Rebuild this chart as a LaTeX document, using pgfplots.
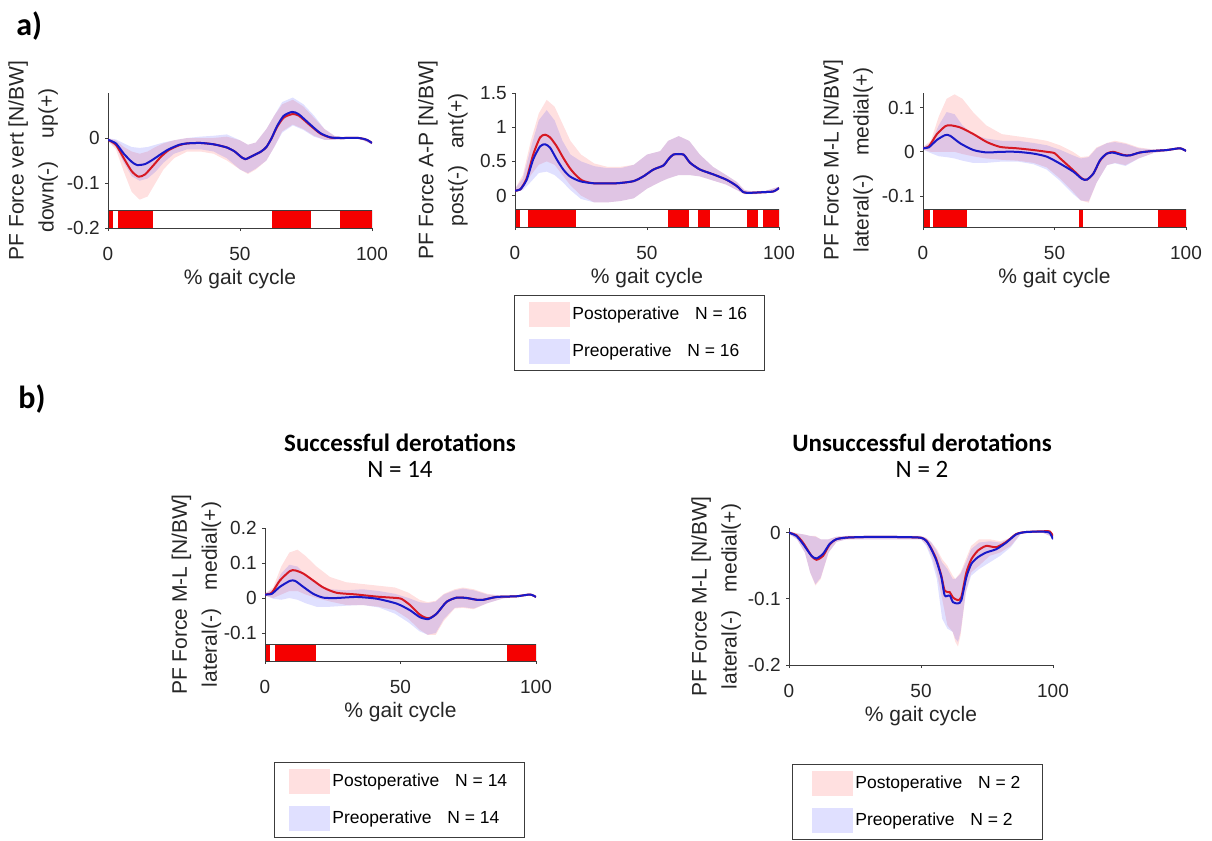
\documentclass[border=0pt]{standalone}
\usepackage{fontspec}
\setmainfont{Liberation Sans}
\newfontfamily\calibri{Carlito}
\usepackage{pgfplots}
\pgfplotsset{compat=1.18}

\definecolor{postln}{RGB}{215,25,35}
\definecolor{preln}{RGB}{25,25,200}
\definecolor{sigred}{RGB}{245,0,0}
\definecolor{axgray}{RGB}{60,60,60}

\pgfplotsset{
  gait/.style={
    scale only axis, xmin=0, xmax=100,
    axis x line*=bottom, axis y line*=left,
    axis line style={-, draw=axgray, line width=0.5pt},
    tick align=outside, major tick length=1.5pt,
    tick style={draw=axgray, line width=0.5pt},
    xtick={0,50,100}, xticklabels={0,50,100},
    ticklabel style={font=\fontsize{9.5}{11}\selectfont, text=black!85},
    xticklabel style={anchor=base, yshift=-14.5pt, inner sep=0pt},
    yticklabel style={anchor=east, xshift=-2.5pt, inner sep=0pt},
    xlabel={\% gait cycle},
    xlabel style={at={(axis description cs:0.5,0)}, anchor=base, yshift=-28pt, inner sep=0pt},
    ylabel style={align=center, inner sep=0pt, anchor=south},
    label style={font=\fontsize{10.5}{15}\selectfont, text=black!85},
    legend cell align=left,
    legend style={draw=axgray, line width=0.5pt, font=\fontsize{8.75}{10}\selectfont,
      inner xsep=7.5pt, inner ysep=3.3pt, row sep=6pt, nodes={inner sep=1pt}, anchor=north west},
    legend image code/.code={\fill[##1] (0pt,-6.25pt) rectangle (20.5pt,6.25pt);},
  },
  postband/.style={fill=red, fill opacity=0.12, draw=none},
  preband/.style={fill=blue, fill opacity=0.12, draw=none},
  postmean/.style={postln, line width=1pt, smooth, tension=0.4, forget plot},
  premean/.style={preln, line width=1pt, smooth, tension=0.4, forget plot},
}

% significance bar: white box, red segments, outline
\newcommand{\sigbox}[2]{\addplot[fill=white, draw=none, forget plot] coordinates {(0,#1) (100,#1) (100,#2) (0,#2)} --cycle;}
\newcommand{\sigline}[2]{\addplot[draw=axgray, line width=0.5pt, forget plot] coordinates {(0,#1) (100,#1) (100,#2) (0,#2)} --cycle;}
\newcommand{\sig}[4]{\addplot[fill=sigred, draw=none, forget plot] coordinates {(#1,#3) (#2,#3) (#2,#4) (#1,#4)} --cycle;}

\begin{document}
\begin{tikzpicture}
\begin{scope}[x=0.5pt,y=-0.5pt]
\path[use as bounding box] (0,0) rectangle (1212,840);
\coordinate (A1) at (108,228);
\coordinate (A2) at (515,227);
\coordinate (A3) at (923,227);
\coordinate (B1) at (265,661);
\coordinate (B2) at (789,665);
\node[font=\calibri\bfseries\fontsize{16}{18}\selectfont, anchor=base west, inner sep=0pt] at (16,35) {a)};
\node[font=\calibri\bfseries\fontsize{16}{18}\selectfont, anchor=base west, inner sep=0pt] at (18,408) {b)};
\node[font=\calibri\bfseries\fontsize{12.5}{15}\selectfont, anchor=base, inner sep=0pt] at (400,451) {Successful derotations};
\node[font=\calibri\fontsize{12.5}{15}\selectfont, anchor=base, inner sep=0pt] at (400,477) {N = 14};
\node[font=\calibri\bfseries\fontsize{12.5}{15}\selectfont, anchor=base, inner sep=0pt] at (922,451) {Unsuccessful derotations};
\node[font=\calibri\fontsize{12.5}{15}\selectfont, anchor=base, inner sep=0pt] at (922,477) {N = 2};
\end{scope}

% ---------- a) vertical ----------
\begin{axis}[gait, at={(A1)}, anchor=south west, width=132pt, height=67.5pt,
  ymin=-0.2, ymax=0.1, ytick={-0.2,-0.1,0}, yticklabels={-0.2,-0.1,0},
  ylabel={PF Force vert [N/BW]\\down(-)\hspace{1.1em}up(+)},
  ylabel style={at={(axis description cs:-0.188,0.5)}}]
\addplot[postband, forget plot] coordinates {(0,-0.001)(3,-0.005)(6,-0.02)(9,-0.03)(12,-0.035)(15,-0.03)(18,-0.02)(21,-0.012)(25,-0.005)(30,0)(35,0)(40,0)(45,0.003)(50,-0.005)(53,-0.015)(56,-0.01)(60,0.02)(63,0.05)(66,0.075)(70,0.085)(74,0.07)(78,0.045)(82,0.02)(86,0.004)(90,0.002)(95,0.001)(100,-0.008)
  (100,-0.014)(95,-0.001)(90,-0.002)(86,-0.004)(82,-0.004)(78,0.005)(74,0.02)(70,0.03)(66,0.015)(63,-0.02)(60,-0.05)(56,-0.07)(53,-0.08)(50,-0.07)(45,-0.05)(40,-0.035)(35,-0.03)(30,-0.03)(25,-0.045)(21,-0.07)(18,-0.1)(15,-0.13)(12,-0.137)(9,-0.12)(6,-0.075)(3,-0.025)(0,-0.007)} --cycle;
\addplot[preband, forget plot] coordinates {(0,-0.001)(3,-0.003)(6,-0.012)(9,-0.02)(12,-0.022)(15,-0.02)(18,-0.015)(21,-0.01)(25,-0.005)(30,0)(35,0.003)(40,0.005)(45,0.008)(50,-0.005)(53,-0.015)(56,-0.01)(60,0.02)(63,0.05)(66,0.08)(70,0.09)(74,0.075)(78,0.05)(82,0.02)(86,0.004)(90,0.002)(95,0.001)(100,-0.008)
  (100,-0.014)(95,-0.001)(90,-0.002)(86,-0.004)(82,-0.004)(78,0.003)(74,0.018)(70,0.028)(66,0.012)(63,-0.02)(60,-0.05)(56,-0.068)(53,-0.078)(50,-0.07)(45,-0.045)(40,-0.03)(35,-0.025)(30,-0.025)(25,-0.035)(21,-0.055)(18,-0.075)(15,-0.09)(12,-0.095)(9,-0.085)(6,-0.055)(3,-0.02)(0,-0.007)} --cycle;
\addplot[postmean] coordinates {(0,-0.004)(3,-0.015)(6,-0.045)(9,-0.074)(11.6,-0.086)(14,-0.081)(17,-0.062)(20,-0.042)(23,-0.027)(27,-0.016)(30,-0.012)(35,-0.011)(40,-0.014)(45,-0.021)(48,-0.03)(50,-0.04)(52,-0.047)(55,-0.039)(58,-0.03)(60,-0.02)(62,0)(64,0.024)(66.5,0.045)(69.7,0.053)(72.2,0.05)(76.6,0.028)(80.4,0.01)(84.2,0.001)(88,0)(95,0)(98,-0.004)(100,-0.011)};
\addplot[premean] coordinates {(0,-0.004)(3,-0.012)(6,-0.035)(9,-0.053)(11,-0.06)(14,-0.058)(17,-0.048)(20,-0.036)(23,-0.025)(27,-0.015)(30,-0.012)(35,-0.011)(40,-0.014)(45,-0.021)(48,-0.03)(50,-0.04)(52,-0.047)(55,-0.039)(58,-0.03)(60,-0.02)(62,0)(64,0.026)(66.5,0.049)(69.7,0.058)(72.2,0.053)(76.6,0.03)(80.4,0.011)(84.2,0.0015)(88,0)(95,0)(98,-0.004)(100,-0.011)};
\sigbox{-0.161}{-0.2}
\sig{0}{2}{-0.161}{-0.2}
\sig{3.9}{16.9}{-0.161}{-0.2}
\sig{62}{76.9}{-0.161}{-0.2}
\sig{87.9}{100}{-0.161}{-0.2}
\sigline{-0.161}{-0.2}
\end{axis}

% ---------- a) anterior-posterior ----------
\begin{axis}[gait, at={(A2)}, anchor=south west, width=132pt, height=67pt,
  ymin=-0.46, ymax=1.5, ytick={0,0.5,1,1.5}, yticklabels={0,0.5,1,1.5},
  ylabel={PF Force A-P [N/BW]\\post(-)\hspace{0.8em}ant(+)},
  ylabel style={at={(axis description cs:-0.178,0.5)}},
  legend style={at={(axis description cs:-0.004,-0.507)}}]
\addplot[postband] coordinates {(0,0.1)(3,0.3)(6,0.8)(9,1.2)(12,1.4)(15,1.3)(18,1.05)(21,0.8)(25,0.6)(30,0.47)(35,0.42)(40,0.42)(45,0.45)(50,0.6)(55,0.65)(58,0.8)(62,0.87)(66,0.8)(70,0.6)(75,0.42)(80,0.3)(84,0.2)(87,0.08)(90,0.06)(95,0.07)(100,0.13)
  (100,0.09)(95,0.03)(90,0.02)(87,0.02)(84,0.08)(80,0.16)(75,0.22)(70,0.28)(66,0.3)(62,0.3)(58,0.25)(55,0.2)(50,0.1)(45,-0.04)(40,-0.08)(35,-0.1)(30,-0.1)(25,0.0)(21,0.15)(18,0.3)(15,0.45)(12,0.5)(9,0.45)(6,0.3)(3,0.1)(0,0.05)} --cycle;
\addlegendentry{Postoperative\hspace{0.9em}N = 16}
\addplot[preband] coordinates {(0,0.1)(3,0.25)(6,0.7)(9,1.1)(12,1.25)(15,1.1)(18,0.8)(21,0.6)(25,0.5)(30,0.43)(35,0.4)(40,0.4)(45,0.45)(50,0.6)(55,0.65)(58,0.8)(62,0.87)(66,0.8)(70,0.6)(75,0.42)(80,0.3)(84,0.2)(87,0.08)(90,0.06)(95,0.07)(100,0.13)
  (100,0.09)(95,0.03)(90,0.02)(87,0.02)(84,0.08)(80,0.16)(75,0.22)(70,0.28)(66,0.3)(62,0.3)(58,0.25)(55,0.2)(50,0.1)(45,-0.04)(40,-0.08)(35,-0.1)(30,-0.1)(25,-0.05)(21,0.08)(18,0.2)(15,0.3)(12,0.35)(9,0.33)(6,0.2)(3,0.08)(0,0.05)} --cycle;
\addlegendentry{Preoperative\hspace{0.9em}N = 16}
\addplot[postmean] coordinates {(0,0.073)(2,0.09)(4.4,0.25)(6.9,0.6)(9.5,0.85)(11.4,0.89)(13.3,0.85)(15.8,0.72)(18.3,0.55)(20.8,0.4)(23,0.3)(25.5,0.22)(29.7,0.18)(38.5,0.18)(44.8,0.21)(48.6,0.28)(52.4,0.38)(56.2,0.44)(58.1,0.53)(60,0.6)(63.8,0.6)(66.3,0.48)(70.1,0.38)(75.1,0.31)(80.2,0.23)(84,0.14)(86.5,0.05)(89,0.04)(94,0.05)(97.9,0.06)(100,0.11)};
\addplot[premean] coordinates {(0,0.073)(2,0.09)(4.4,0.23)(6.9,0.53)(9.5,0.72)(11.4,0.75)(13.3,0.7)(15.8,0.53)(18.3,0.38)(20.8,0.28)(24.6,0.21)(29.7,0.18)(38.5,0.18)(44.8,0.21)(48.6,0.28)(52.4,0.38)(56.2,0.44)(58.1,0.53)(60,0.6)(63.8,0.6)(66.3,0.48)(70.1,0.38)(75.1,0.31)(80.2,0.23)(84,0.14)(86.5,0.05)(89,0.04)(94,0.05)(97.9,0.06)(100,0.11)};
\sigbox{-0.21}{-0.46}
\sig{0}{1.9}{-0.21}{-0.46}
\sig{5.1}{23}{-0.21}{-0.46}
\sig{58.1}{65.9}{-0.21}{-0.46}
\sig{69.2}{74}{-0.21}{-0.46}
\sig{88}{91.9}{-0.21}{-0.46}
\sig{94.1}{100}{-0.21}{-0.46}
\sigline{-0.21}{-0.46}
\end{axis}

% ---------- a) medio-lateral ----------
\begin{axis}[gait, at={(A3)}, anchor=south west, width=131.5pt, height=67pt,
  ymin=-0.17, ymax=0.133, ytick={-0.1,0,0.1}, yticklabels={-0.1,0,0.1},
  ylabel={PF Force M-L [N/BW]\\lateral(-)\hspace{0.9em}medial(+)},
  ylabel style={at={(axis description cs:-0.189,0.5)}}]
\addplot[postband, forget plot] coordinates {(0,0.011)(3,0.025)(6,0.08)(9,0.12)(12,0.13)(15,0.12)(19,0.09)(24,0.06)(30,0.04)(36,0.035)(42,0.03)(47,0.025)(52,0.015)(57,0)(60,-0.012)(63,-0.01)(66,0.01)(70,0.02)(73,0.025)(77,0.02)(82,0.01)(88,0.005)(93,0.006)(98,0.01)(100,0.004)
  (100,0)(98,0.006)(93,0.002)(88,-0.002)(82,-0.015)(77,-0.03)(73,-0.025)(70,-0.03)(66,-0.07)(63,-0.115)(60,-0.11)(57,-0.09)(52,-0.06)(47,-0.035)(42,-0.025)(36,-0.02)(30,-0.018)(24,-0.015)(19,-0.01)(15,-0.005)(12,0)(9,0)(6,0)(3,0)(0,0.005)} --cycle;
\addplot[preband, forget plot] coordinates {(0,0.011)(3,0.02)(6,0.06)(9,0.09)(12,0.085)(15,0.06)(19,0.04)(24,0.03)(30,0.025)(36,0.025)(42,0.02)(47,0.015)(52,0.005)(57,-0.008)(60,-0.015)(63,-0.012)(66,0.008)(70,0.02)(73,0.022)(77,0.018)(82,0.008)(88,0.005)(93,0.006)(98,0.01)(100,0.004)
  (100,0)(98,0.006)(93,0.002)(88,-0.002)(82,-0.015)(77,-0.032)(73,-0.026)(70,-0.03)(66,-0.07)(63,-0.112)(60,-0.11)(57,-0.095)(52,-0.065)(47,-0.04)(42,-0.028)(36,-0.022)(30,-0.022)(24,-0.025)(19,-0.025)(15,-0.02)(12,-0.015)(9,-0.012)(6,-0.01)(3,-0.003)(0,0.005)} --cycle;
\addplot[postmean] coordinates {(0,0.008)(2.2,0.012)(5.3,0.04)(8.5,0.058)(10.4,0.06)(14.2,0.055)(19.2,0.04)(24.3,0.022)(29.4,0.011)(35.7,0.008)(42,0.004)(47.1,0)(50,-0.003)(52.2,-0.015)(57.2,-0.042)(60.4,-0.06)(62.3,-0.063)(64.8,-0.049)(67.3,-0.02)(69.9,-0.004)(72.4,0)(76.2,-0.007)(78.7,-0.008)(82.5,-0.0015)(87.6,0.002)(92.7,0.004)(97.7,0.008)(100,0.002)};
\addplot[premean] coordinates {(0,0.008)(2.2,0.01)(5.3,0.027)(8.5,0.038)(10.4,0.036)(14.2,0.019)(19.2,0.004)(24.3,-0.0015)(29.4,0)(35.7,0)(42,-0.004)(47.1,-0.011)(52.2,-0.027)(57.2,-0.045)(60.4,-0.061)(62.3,-0.063)(64.8,-0.049)(67.3,-0.019)(69.9,-0.004)(72.4,-0.002)(76.2,-0.008)(78.7,-0.008)(82.5,-0.0015)(87.6,0.002)(92.7,0.004)(97.7,0.008)(100,0.002)};
\sigbox{-0.131}{-0.17}
\sig{0}{2.5}{-0.131}{-0.17}
\sig{3.8}{16.7}{-0.131}{-0.17}
\sig{59.5}{60.8}{-0.131}{-0.17}
\sig{89.2}{100}{-0.131}{-0.17}
\sigline{-0.131}{-0.17}
\end{axis}

% ---------- b) successful ----------
\begin{axis}[gait, at={(B1)}, anchor=south west, width=135.5pt, height=66.5pt,
  ymin=-0.18, ymax=0.2, ytick={-0.1,0,0.1,0.2}, yticklabels={-0.1,0,0.1,0.2},
  ylabel={PF Force M-L [N/BW]\\lateral(-)\hspace{0.9em}medial(+)},
  ylabel style={at={(axis description cs:-0.16,0.5)}},
  legend style={at={(axis description cs:0.033,-0.759)}}]
\addplot[postband] coordinates {(0,0.013)(3,0.03)(6,0.09)(9,0.13)(12,0.138)(15,0.12)(19,0.09)(24,0.06)(30,0.045)(36,0.04)(42,0.035)(48,0.03)(53,0.015)(57,-0.005)(60,-0.012)(63,-0.008)(66,0.012)(70,0.025)(73,0.03)(77,0.025)(82,0.012)(88,0.006)(93,0.007)(98,0.012)(100,0.005)
  (100,0.001)(98,0.008)(93,0.003)(88,-0.001)(82,-0.015)(77,-0.032)(73,-0.028)(70,-0.03)(66,-0.065)(63,-0.105)(60,-0.105)(57,-0.09)(53,-0.06)(48,-0.035)(42,-0.025)(36,-0.02)(30,-0.02)(24,-0.01)(19,0)(15,0.01)(12,0.02)(9,0.02)(6,0.01)(3,0)(0,0.007)} --cycle;
\addlegendentry{Postoperative\hspace{0.9em}N = 14}
\addplot[preband] coordinates {(0,0.013)(3,0.025)(6,0.07)(9,0.095)(12,0.09)(15,0.065)(19,0.04)(24,0.025)(30,0.022)(36,0.025)(42,0.02)(48,0.012)(53,0)(57,-0.012)(60,-0.015)(63,-0.01)(66,0.01)(70,0.022)(73,0.027)(77,0.022)(82,0.01)(88,0.006)(93,0.007)(98,0.012)(100,0.005)
  (100,0.001)(98,0.008)(93,0.003)(88,-0.001)(82,-0.015)(77,-0.03)(73,-0.026)(70,-0.028)(66,-0.06)(63,-0.1)(60,-0.105)(57,-0.095)(53,-0.07)(48,-0.045)(42,-0.027)(36,-0.02)(30,-0.022)(24,-0.025)(19,-0.025)(15,-0.015)(12,-0.005)(9,0)(6,-0.005)(3,-0.002)(0,0.007)} --cycle;
\addlegendentry{Preoperative\hspace{0.9em}N = 14}
\addplot[postmean] coordinates {(0,0.01)(2.5,0.015)(5.5,0.05)(9.2,0.077)(11.1,0.079)(14.1,0.07)(17.8,0.05)(21.5,0.03)(26.4,0.015)(33.8,0.01)(41.2,0.004)(48.6,0)(50.5,-0.003)(53.5,-0.02)(57.2,-0.048)(60.3,-0.058)(63.3,-0.045)(67,-0.011)(70.7,0.001)(74.4,0)(78.1,-0.005)(80.6,-0.005)(85.5,0.003)(92.9,0.005)(97.8,0.01)(100,0.003)};
\addplot[premean] coordinates {(0,0.01)(2.5,0.012)(5.5,0.032)(9.2,0.049)(11.1,0.049)(14.1,0.032)(17.8,0.012)(21.5,0.001)(26.4,0)(33.8,0.003)(41.2,-0.002)(48.6,-0.016)(53.5,-0.035)(57.2,-0.055)(60.3,-0.06)(63.3,-0.045)(67,-0.011)(70.7,0.001)(74.4,0)(78.1,-0.005)(80.6,-0.005)(85.5,0.003)(92.9,0.005)(97.8,0.01)(100,0.003)};
\sigbox{-0.134}{-0.18}
\sig{0}{1.8}{-0.134}{-0.18}
\sig{3.8}{18.8}{-0.134}{-0.18}
\sig{89.3}{100}{-0.134}{-0.18}
\sigline{-0.134}{-0.18}
\end{axis}

% ---------- b) unsuccessful ----------
\begin{axis}[gait, at={(B2)}, anchor=south west, width=132pt, height=68.5pt,
  ymin=-0.2, ymax=0.007, ytick={-0.2,-0.1,0}, yticklabels={-0.2,-0.1,0},
  ylabel={PF Force M-L [N/BW]\\lateral(-)\hspace{0.9em}medial(+)},
  ylabel style={at={(axis description cs:-0.18,0.5)}},
  legend style={at={(axis description cs:0.011,-0.723)}, inner xsep=10pt}]
\addplot[postband] coordinates {(0,0.002)(3,-0.001)(6,-0.003)(8,-0.005)(10,-0.005)(12,-0.01)(15,-0.01)(18,-0.006)(22,-0.005)(50,-0.005)(52,-0.008)(54,-0.015)(56,-0.025)(58,-0.04)(60,-0.05)(62,-0.065)(63,-0.07)(65,-0.06)(67,-0.04)(69,-0.02)(72,-0.01)(76,-0.01)(80,-0.013)(84,-0.008)(88,0.002)(96,0.003)(100,-0.003)
  (100,-0.007)(96,0)(88,-0.001)(84,-0.02)(80,-0.03)(76,-0.035)(72,-0.05)(69,-0.06)(67,-0.09)(65,-0.155)(64,-0.172)(63,-0.165)(62,-0.15)(60,-0.14)(58,-0.1)(56,-0.06)(54,-0.035)(52,-0.018)(50,-0.01)(22,-0.01)(18,-0.014)(15,-0.03)(12,-0.07)(10,-0.08)(8,-0.06)(6,-0.03)(3,-0.01)(0,-0.002)} --cycle;
\addlegendentry{Postoperative\hspace{0.9em}N = 2}
\addplot[preband] coordinates {(0,0.002)(3,-0.001)(6,-0.003)(8,-0.005)(10,-0.006)(12,-0.01)(15,-0.01)(18,-0.006)(22,-0.005)(50,-0.005)(52,-0.008)(54,-0.015)(56,-0.028)(58,-0.045)(60,-0.055)(62,-0.07)(63,-0.07)(65,-0.062)(67,-0.045)(69,-0.025)(72,-0.015)(76,-0.013)(80,-0.015)(84,-0.008)(88,0.002)(96,0.003)(100,-0.003)
  (100,-0.007)(96,0)(88,-0.001)(84,-0.022)(80,-0.035)(76,-0.045)(72,-0.055)(69,-0.065)(67,-0.09)(65,-0.15)(64,-0.165)(63,-0.16)(62,-0.15)(60,-0.145)(58,-0.13)(56,-0.07)(54,-0.04)(52,-0.02)(50,-0.01)(22,-0.01)(18,-0.014)(15,-0.03)(12,-0.068)(10,-0.078)(8,-0.06)(6,-0.03)(3,-0.01)(0,-0.002)} --cycle;
\addlegendentry{Preoperative\hspace{0.9em}N = 2}
\addplot[postmean] coordinates {(0,0)(2.8,-0.004)(5.3,-0.015)(8.5,-0.035)(10.4,-0.041)(12.9,-0.035)(15.4,-0.018)(17.9,-0.01)(21.7,-0.0075)(29.3,-0.0065)(39.4,-0.0065)(49.5,-0.0075)(52,-0.012)(53.9,-0.024)(55.8,-0.04)(57.7,-0.065)(59,-0.088)(60.9,-0.09)(62.1,-0.098)(64,-0.102)(65.3,-0.097)(67.2,-0.06)(69.1,-0.04)(71.6,-0.027)(74.7,-0.02)(78.5,-0.022)(82.3,-0.014)(86.1,-0.002)(89.9,0.001)(96.2,0.002)(98.7,0.002)(100,-0.005)};
\addplot[premean] coordinates {(0,0)(2.8,-0.005)(5.3,-0.017)(8.5,-0.035)(10.4,-0.039)(12.9,-0.032)(15.4,-0.017)(17.9,-0.01)(21.7,-0.0075)(29.3,-0.0065)(39.4,-0.0065)(49.5,-0.0075)(52,-0.0125)(53.9,-0.025)(55.8,-0.042)(57.7,-0.067)(59,-0.095)(60.9,-0.095)(62.1,-0.105)(64,-0.107)(65.3,-0.102)(67.2,-0.067)(69.1,-0.047)(71.6,-0.037)(74.7,-0.03)(78.5,-0.025)(82.3,-0.015)(86.1,-0.0025)(89.9,0.001)(96.2,0.0015)(98.7,0)(100,-0.01)};
\end{axis}
\end{tikzpicture}
\end{document}
